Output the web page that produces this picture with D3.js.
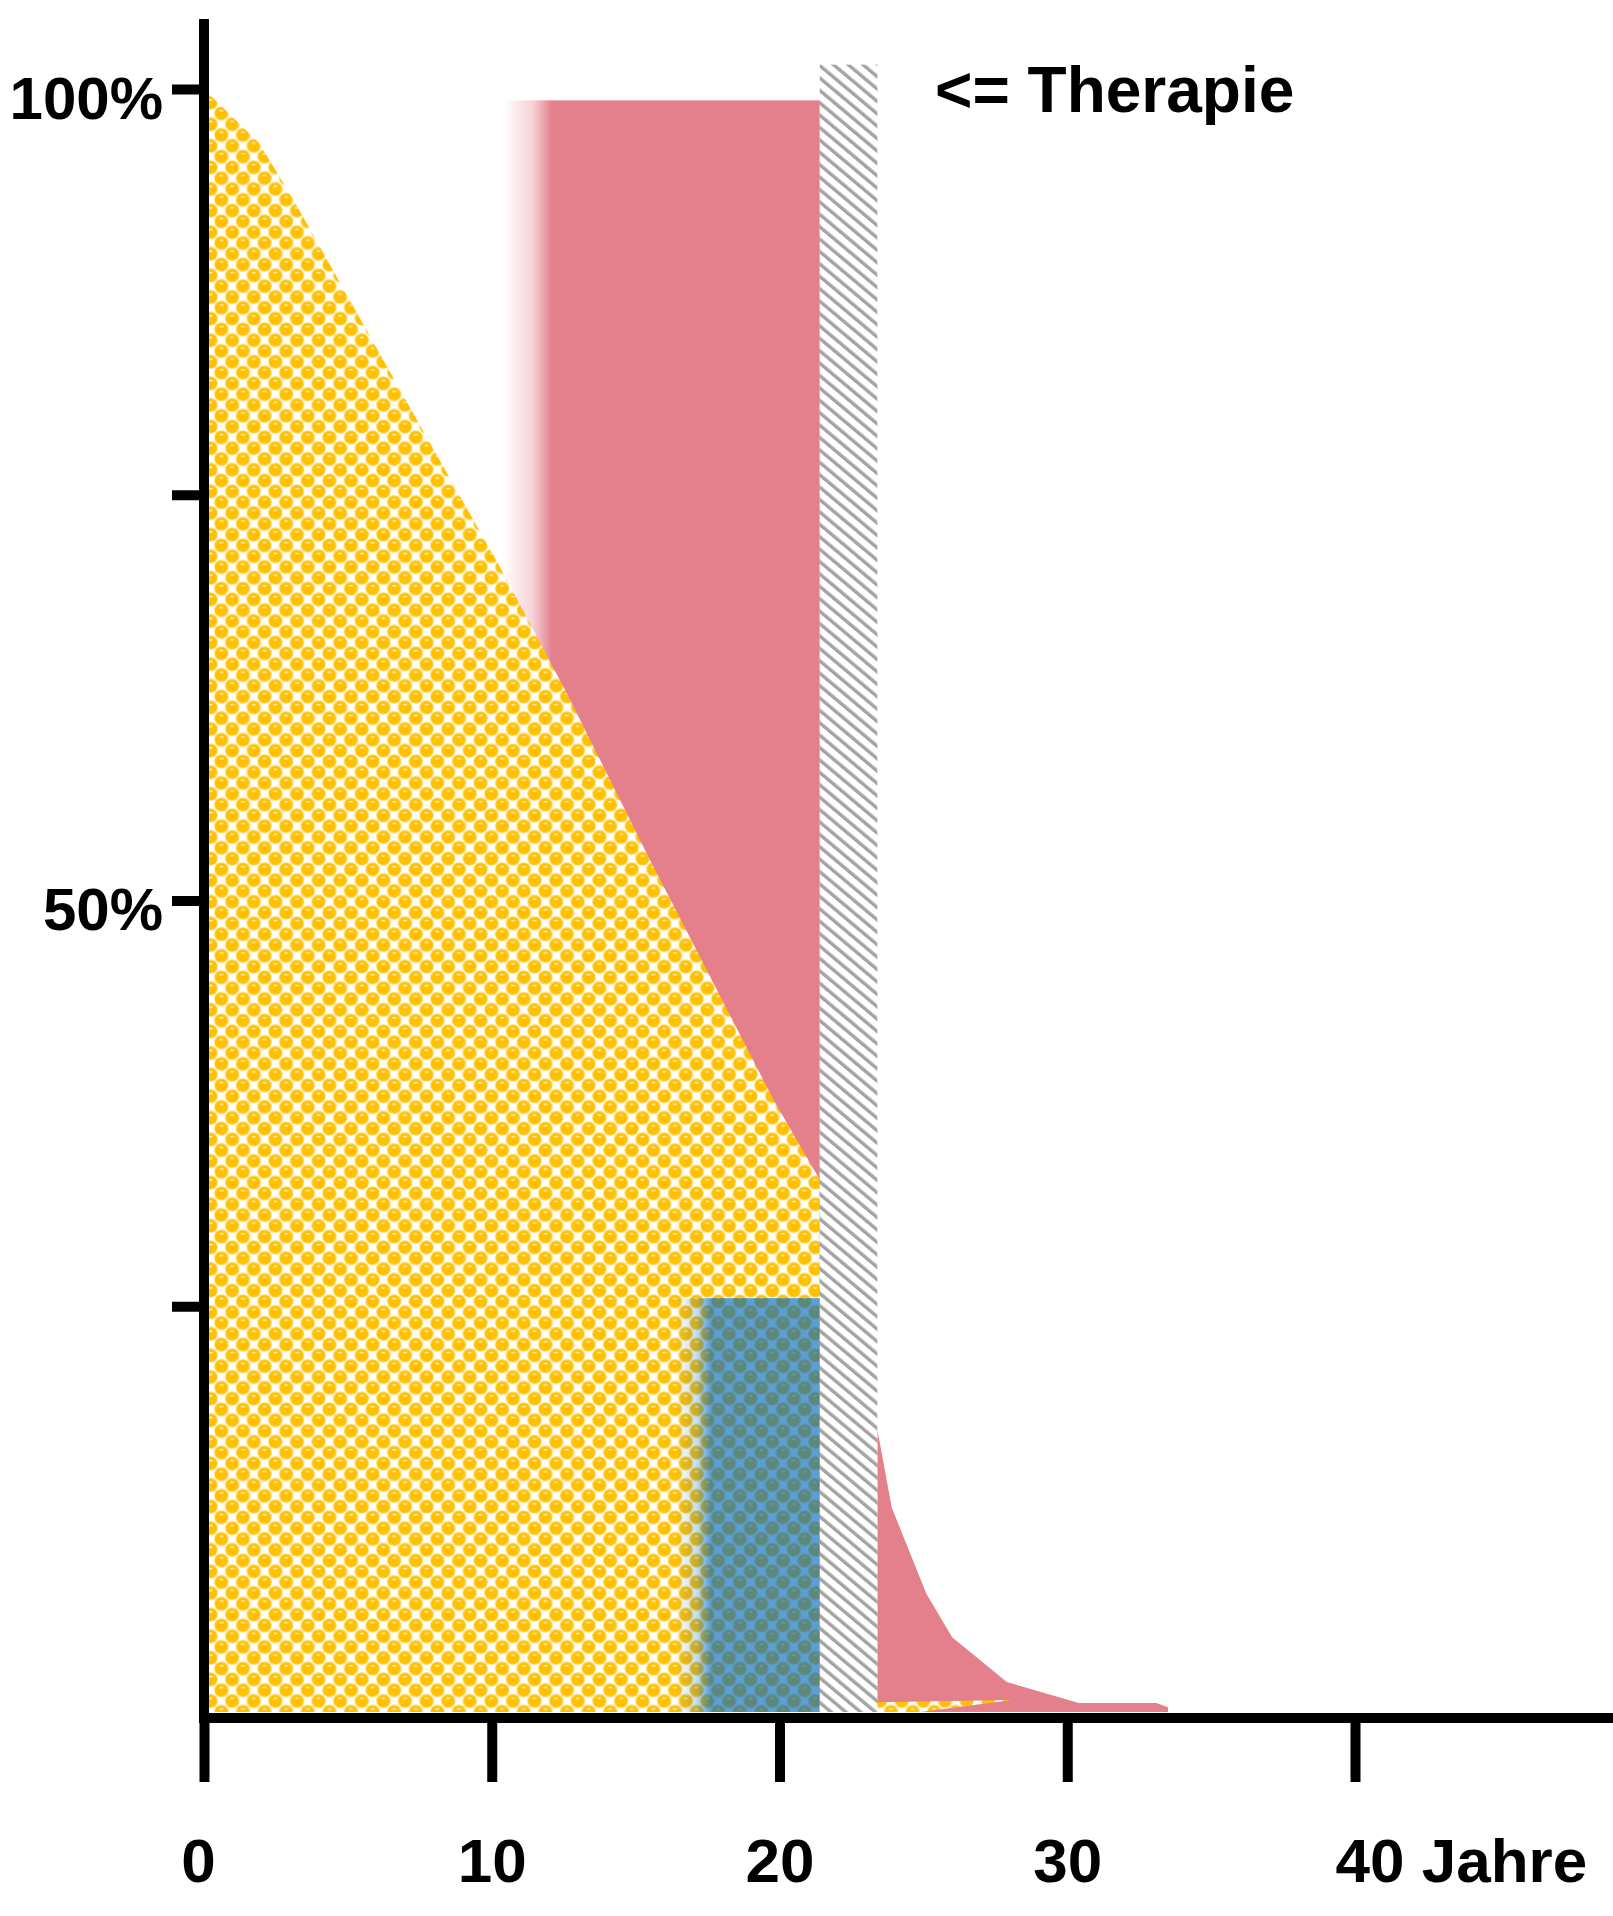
<!DOCTYPE html>
<html>
<head>
<meta charset="utf-8">
<script src="https://cdn.jsdelivr.net/npm/d3@7/dist/d3.min.js"></script>
<style>
  html, body { margin: 0; padding: 0; background: #fff; }
  svg { display: block; }
  text { font-family: "Liberation Sans", Arial, sans-serif; font-weight: bold; fill: #000; }
</style>
</head>
<body>
<svg id="chart" width="1613" height="1916"></svg>
<script>
// ---- data (years, percent) ----
const years  = [0, 1.9, 3.1, 6.8, 10.3, 12.6, 15.5, 19.8, 21.4];
const share  = [100, 96.7, 93.2, 81.5, 70.5, 62.8, 52.5, 37.7, 32.8];

const pinkBlock = { fadeStart: 10.4, solidStart: 12.1, end: 21.4, top: 99.3 };
const blueBlock = { fadeStart: 16.4, solidStart: 17.6, end: 21.4, top: 25.5 };
const therapy   = { start: 21.4, end: 23.4, top: 101.5 };

const tailYears = [23.4, 23.9, 25.1, 26.0, 27.9, 30.4, 33.1, 33.5];
const tailShare = [17.4, 12.6, 7.3, 4.6, 1.85, 0.55, 0.55, 0.3];

const wedgeYears = [21.4, 23.4, 24.9, 28.1];
const wedgeLow   = [0, 0, 0, 0.74];
const wedgeHigh  = [0.6, 0.6, 0.65, 0.74];

const xTicks  = [0, 10, 20, 30, 40];
const xLabels = ["0", "10", "20", "30", "40 Jahre"];
const yTicks  = [25, 50, 75, 100];
const yLabels = ["", "50%", "", "100%"];
const note = "<= Therapie";

// ---- scales ----
const x = d3.scaleLinear().domain([0, 40]).range([204, 1355]);
const y = d3.scaleLinear().domain([0, 100]).range([1712, 89]);

const svg = d3.select("#chart");
const defs = svg.append("defs");

// bubble pattern for yellow
const T = 21.6;
const bub = defs.append("pattern").attr("id", "bubbles")
  .attr("patternUnits", "userSpaceOnUse").attr("width", T).attr("height", T);
bub.append("rect").attr("width", T).attr("height", T).attr("fill", "#ffffff");
const centers = [];
[-1, 0, 1].forEach(i => [-1, 0, 1].forEach(j => {
  centers.push([T/4 + i*T, T/4 + j*T]);
  centers.push([3*T/4 + i*T, 3*T/4 + j*T]);
}));
centers.forEach(([cx, cy]) => {
  bub.append("circle").attr("cx", cx).attr("cy", cy).attr("r", 7.2).attr("fill", "#ffd24a");
  bub.append("circle").attr("cx", cx).attr("cy", cy).attr("r", 6.0).attr("fill", "#ffc000");
  bub.append("ellipse").attr("cx", cx).attr("cy", cy - 2.6).attr("rx", 2.2).attr("ry", 1.0).attr("fill", "#ffe9a6");
});

// hatch pattern
const hp = 9.5;
const hatch = defs.append("pattern").attr("id", "hatch")
  .attr("patternUnits", "userSpaceOnUse").attr("width", hp).attr("height", hp)
  .attr("patternTransform", "rotate(-50)");
hatch.append("rect").attr("width", hp).attr("height", hp).attr("fill", "#ffffff");
hatch.append("rect").attr("x", 0).attr("width", 3.4).attr("height", hp).attr("fill", "#a3a3a3");

// gradients
function fadeGrad(id, blk, color, op) {
  const g = defs.append("linearGradient").attr("id", id)
    .attr("gradientUnits", "userSpaceOnUse")
    .attr("x1", x(blk.fadeStart)).attr("x2", x(blk.end)).attr("y1", 0).attr("y2", 0);
  const mid = (x(blk.solidStart) - x(blk.fadeStart)) / (x(blk.end) - x(blk.fadeStart));
  g.append("stop").attr("offset", 0).attr("stop-color", color).attr("stop-opacity", 0);
  g.append("stop").attr("offset", mid * 0.6).attr("stop-color", color).attr("stop-opacity", op * 0.35);
  g.append("stop").attr("offset", mid).attr("stop-color", color).attr("stop-opacity", op);
  g.append("stop").attr("offset", 1).attr("stop-color", color).attr("stop-opacity", op);
}
fadeGrad("pinkFade", pinkBlock, "#e47f8c", 1);
fadeGrad("blueFade", blueBlock, "#0069c0", 0.64);

const pink = "#e47f8c";

// pink block (behind yellow)
svg.append("rect")
  .attr("x", x(pinkBlock.fadeStart)).attr("y", y(pinkBlock.top))
  .attr("width", x(pinkBlock.end) - x(pinkBlock.fadeStart))
  .attr("height", y(0) - y(pinkBlock.top))
  .attr("fill", "url(#pinkFade)");

// yellow main area
const main = years.map((d, i) => ({ x: d, v: share[i] }));
svg.append("path").datum(main)
  .attr("d", d3.area().x(d => x(d.x)).y0(y(0)).y1(d => y(d.v)))
  .attr("fill", "url(#bubbles)");

// blue overlay
svg.append("rect")
  .attr("x", x(blueBlock.fadeStart)).attr("y", y(blueBlock.top))
  .attr("width", x(blueBlock.end) - x(blueBlock.fadeStart))
  .attr("height", y(0) - y(blueBlock.top))
  .attr("fill", "url(#blueFade)");

// pink tail
const tail = tailYears.map((d, i) => ({ x: d, v: tailShare[i] }));
svg.append("path").datum(tail)
  .attr("d", d3.area().x(d => x(d.x)).y0(y(0)).y1(d => y(d.v)))
  .attr("fill", pink);

// yellow wedge
const wedge = wedgeYears.map((d, i) => ({ x: d, lo: wedgeLow[i], hi: wedgeHigh[i] }));
svg.append("path").datum(wedge)
  .attr("d", d3.area().x(d => x(d.x)).y0(d => y(d.lo)).y1(d => y(d.hi)))
  .attr("fill", "url(#bubbles)");

// therapy hatch bar
svg.append("rect")
  .attr("x", x(therapy.start)).attr("y", y(therapy.top))
  .attr("width", x(therapy.end) - x(therapy.start))
  .attr("height", y(0) - y(therapy.top))
  .attr("fill", "url(#hatch)");

// annotation
svg.append("text").attr("x", 935).attr("y", 112)
  .attr("font-size", 64).text(note);

// ---- axes ----
const axisY = 1718;
const yAxis = svg.append("g").attr("transform", "translate(204,0)")
  .call(d3.axisLeft(y).tickValues(yTicks).tickSize(32).tickPadding(9)
    .tickFormat((d, i) => yLabels[i]));
yAxis.select(".domain").remove();
yAxis.selectAll(".tick line").attr("stroke", "#000").attr("stroke-width", 10);
yAxis.selectAll(".tick text").attr("font-size", 60).attr("dy", "0.49em")
  .attr("font-family", "Liberation Sans, Arial, sans-serif").attr("font-weight", "bold").attr("fill", "#000");

const xAxis = svg.append("g").attr("transform", `translate(0,${axisY})`)
  .call(d3.axisBottom(x).tickValues(xTicks).tickSize(64)
    .tickFormat((d, i) => xLabels[i]));
xAxis.select(".domain").remove();
xAxis.selectAll(".tick line").attr("stroke", "#000").attr("stroke-width", 10);
xAxis.selectAll(".tick text").attr("font-size", 62).attr("y", 164).attr("dy", 0)
  .attr("font-family", "Liberation Sans, Arial, sans-serif").attr("font-weight", "bold").attr("fill", "#000")
  .attr("text-anchor", (d, i) => i === xTicks.length - 1 ? "start" : "middle")
  .attr("dx", (d, i) => i === xTicks.length - 1 ? -20 : (i === 0 ? -6 : 0));

// axis lines
svg.append("line").attr("x1", 204).attr("x2", 204).attr("y1", 19).attr("y2", axisY + 5)
  .attr("stroke", "#000").attr("stroke-width", 10);
svg.append("line").attr("x1", 199).attr("x2", 1613).attr("y1", axisY).attr("y2", axisY)
  .attr("stroke", "#000").attr("stroke-width", 10);
</script>
</body>
</html>
